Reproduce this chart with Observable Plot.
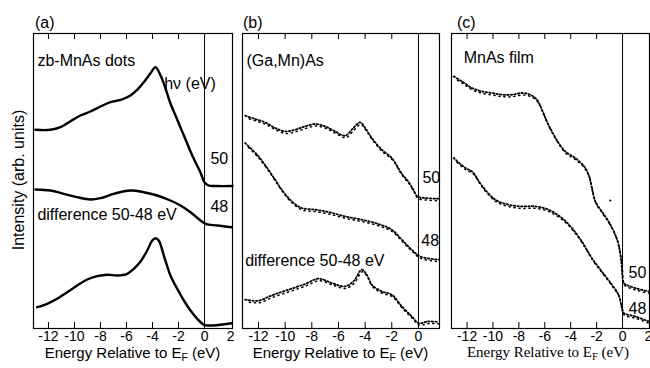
<!DOCTYPE html>
<html><head><meta charset="utf-8">
<script src="https://cdn.jsdelivr.net/npm/d3@7"></script>
<script src="https://cdn.jsdelivr.net/npm/@observablehq/plot@0.6"></script>
<style>
body{margin:0;background:#fff;}
#wrap{position:relative;width:650px;height:368px;overflow:hidden;font-family:"Liberation Sans",Arial,sans-serif;color:#000;background:#fff;}
.lbl{position:absolute;font-size:16px;line-height:1;white-space:nowrap;}
.xt{position:absolute;font-size:15px;line-height:1;white-space:nowrap;transform:translateX(-50%);top:345px;}
.xt sub{font-size:70%;vertical-align:-0.3em;line-height:0;}
.serif{font-family:"Liberation Serif","Times New Roman",serif;}
.yt{position:absolute;left:19px;top:180px;font-size:16px;line-height:1;white-space:nowrap;transform:translate(-50%,-50%) rotate(-90deg);}
</style></head><body><div id="wrap"></div>
<script>
// ---- data: [energy relative to EF (eV), intensity (arb. units)] ----
const a50 = [[-13.0,198.7],[-11.85,198.7],[-11.08,201.3],[-10.31,207.3],[-9.54,213],[-8.77,217],[-8.0,222],[-7.23,226.3],[-6.46,228.7],[-5.69,233],[-5.18,238.7],[-4.67,246.3],[-4.15,255.3],[-3.77,261.3],[-3.38,253],[-3.0,240],[-2.62,225],[-2.23,213],[-1.85,201],[-1.46,189],[-1.08,177],[-0.69,166],[-0.31,156],[0.0,146],[0.31,143],[0.85,142.5],[2.15,142.5]];
const a48 = [[-13.0,139],[-11.85,138],[-10.82,134.7],[-9.79,131.3],[-8.77,129],[-8.0,130.3],[-6.98,134.7],[-5.69,138],[-4.67,136.3],[-3.64,133],[-2.62,128],[-1.85,123],[-1.08,116.3],[-0.31,108],[0.08,104.7],[0.98,103],[2.1,101.3]];
const aDiff = [[-12.87,21.3],[-12.1,24.7],[-11.33,29.7],[-10.56,36.3],[-9.79,43],[-9.02,49],[-8.25,52.3],[-7.48,53.7],[-6.71,53],[-5.94,54.7],[-5.44,59.7],[-4.92,67],[-4.41,78],[-4.02,88],[-3.77,90.3],[-3.52,88],[-3.13,73],[-2.62,53],[-2.1,39.7],[-1.59,28],[-1.08,18],[-0.56,9.7],[-0.05,3.7],[0.46,3],[2.1,5.3]];

const b50 = [[-13.0,212],[-12.25,208.7],[-11.5,205.3],[-10.75,199.7],[-10.0,196.3],[-9.25,198],[-8.5,201.3],[-7.75,203.7],[-7.0,201.3],[-6.25,196.3],[-5.5,192],[-4.88,199.7],[-4.37,205.3],[-4.0,199.7],[-3.5,189.7],[-2.75,178],[-2.0,169.7],[-1.25,154],[-0.75,146],[-0.38,138],[-0.08,131.3],[0.5,129.7],[1.5,129]];
const b48 = [[-13.0,184.7],[-12.0,171.3],[-11.0,153],[-10.25,138],[-9.5,126.3],[-8.75,119.7],[-7.75,118],[-6.75,115.7],[-5.5,111.3],[-4.25,108],[-3.0,103.7],[-2.0,98],[-1.25,88],[-0.5,78],[0.13,71.3],[1.5,68]];
const bDiff = [[-13.0,28],[-12.0,27],[-11.0,32.3],[-9.75,38],[-8.5,43.7],[-7.5,49],[-6.5,44.7],[-5.5,41.3],[-4.88,46.3],[-4.25,58],[-3.88,53],[-3.5,43],[-2.75,36.3],[-2.0,33],[-1.25,21.3],[-0.5,11.3],[0.0,4.7],[0.75,6.3],[1.5,5.7]];

const c50 = [[-13.03,251.3],[-12.39,246.3],[-11.62,239.7],[-10.85,236.3],[-10.08,234.7],[-9.31,233],[-8.54,233],[-7.76,234.7],[-7.12,233],[-6.61,228],[-6.22,218],[-5.84,206.3],[-5.45,196.3],[-4.93,184.7],[-4.42,176.3],[-3.65,169.7],[-3.01,162],[-2.62,153],[-2.1,126.3],[-1.6,116.3],[-1.08,106.3],[-0.56,93],[-0.31,83],[-0.1,66.3],[0.0,49.7],[0.08,44.7],[0.98,39.7],[2.0,36.3]];
const c48 = [[-13.03,169.7],[-12.13,159.7],[-11.6,156],[-10.85,142],[-9.82,128],[-8.79,123],[-7.76,121.3],[-6.73,121.3],[-5.71,118],[-4.68,109.7],[-3.91,99.7],[-3.14,86.3],[-2.37,69.7],[-1.6,56.3],[-0.82,43],[-0.31,33],[-0.05,19.7],[0.08,14.7],[0.98,11.3],[2.0,6.3]];
const cStray = [[-0.95,128]];

// ---- tick values and labels ----
const tickLabelsA = [-12,-10,-8,-6,-4,-2,0,2];
const tickLabelsB = [-12,-10,-8,-6,-4,-2,0];
const tickLabelsC = [-12,-10,-8,-6,-4,-2,0,2];
const innerTicks = [-12,-10,-8,-6,-4,-2];

const textA = [
  {e:-12.85, i:263, t:"zb-MnAs dots"},
  {e:-3.1, i:240, t:"hν (eV)"},
  {e:0.45, i:165, t:"50"},
  {e:0.45, i:117, t:"48"},
  {e:-12.85, i:109, t:"difference 50-48 eV"}
];
const textB = [
  {e:-12.9, i:263, t:"(Ga,Mn)As"},
  {e:0.3, i:146, t:"50"},
  {e:0.22, i:83, t:"48"},
  {e:-13.0, i:63, t:"difference 50-48 eV"}
];
const textC = [
  {e:-12.26, i:266, t:"MnAs film"},
  {e:0.46, i:51, t:"50"},
  {e:0.46, i:15, t:"48"}
];

const FONT = "'Liberation Sans', Arial, Helvetica, sans-serif";
const toObj = arr => arr.map(([e, i]) => ({e, i}));

function seriesMarks(arr, dotted) {
  const d = toObj(arr);
  if (!dotted) {
    return [Plot.line(d, {x:"e", y:"i", curve:"catmull-rom", stroke:"black", strokeWidth:2.4})];
  }
  return [
    Plot.line(d, {x:"e", y:"i", curve:"catmull-rom", stroke:"black", strokeWidth:1.8, strokeDasharray:"1.5 2.1", dy:-0.8}),
    Plot.line(d, {x:"e", y:"i", curve:"catmull-rom", stroke:"black", strokeWidth:1.5, strokeDasharray:"1.2 3.8", strokeDashoffset:1.4, dy:1.2, dx:0.7})
  ];
}

function makePanel(o) {
  const H = 368, mt = 33, mb = 40, inner = H - mt - mb;
  const svg = Plot.plot({
    width: o.width, height: H,
    marginTop: mt, marginBottom: mb, marginLeft: o.ml, marginRight: o.mr,
    x: {domain: o.domain},
    y: {domain: [0, 295], axis: null},
    style: {fontFamily: FONT, background: "transparent", color: "black", overflow: "visible"},
    marks: [
      Plot.frame({stroke: "black", strokeWidth: 1.2}),
      Plot.ruleX([0], {stroke: "black", strokeWidth: 1}),
      Plot.ruleX(innerTicks, {stroke: "black", strokeWidth: 1, insetTop: inner - 6}),
      Plot.ruleX(innerTicks, {stroke: "black", strokeWidth: 1, insetBottom: inner - 6}),
      Plot.axisX(o.labels, {anchor: "bottom", tickSize: 0, tickPadding: 3, fontSize: 14, tickFormat: d => String(d), label: null}),
      ...o.series.flatMap(s => seriesMarks(s, o.dotted)),
      ...(o.stray ? [Plot.dot(toObj(o.stray), {x:"e", y:"i", r:1.1, fill:"black"})] : []),
      Plot.text(o.texts, {x: "e", y: "i", text: "t", textAnchor: "start", lineAnchor: "bottom", fontSize: 16, fill: "black"})
    ]
  });
  svg.style.position = "absolute";
  svg.style.left = o.left + "px";
  svg.style.top = "0px";
  return svg;
}

const wrap = document.getElementById("wrap");
wrap.appendChild(makePanel({left: 0, width: 240, ml: 33, mr: 8, domain: [-13.15, 2.15], labels: tickLabelsA, series: [a50, a48, aDiff], dotted: false, texts: textA}));
wrap.appendChild(makePanel({left: 240, width: 205, ml: 2, mr: 6, domain: [-13.2, 1.58], labels: tickLabelsB, series: [b50, b48, bDiff], dotted: true, texts: textB}));
wrap.appendChild(makePanel({left: 445, width: 205, ml: 6, mr: 1, domain: [-13.2, 2.08], labels: tickLabelsC, series: [c50, c48], dotted: true, texts: textC, stray: cStray}));

function addDiv(cls, html, left, top) {
  const d = document.createElement("div");
  d.className = cls; d.innerHTML = html;
  if (left != null) d.style.left = left + "px";
  if (top != null) d.style.top = top + "px";
  wrap.appendChild(d);
  return d;
}
addDiv("lbl", "(a)", 35, 14.5);
addDiv("lbl", "(b)", 243, 14.5);
addDiv("lbl", "(c)", 457, 14.5);
addDiv("yt", "Intensity (arb. units)");
addDiv("xt", "Energy Relative to E<sub>F</sub> (eV)", 132.5);
addDiv("xt", "Energy Relative to E<sub>F</sub> (eV)", 340.5);
addDiv("xt serif", "Energy Relative to E<sub>F</sub> (eV)", 548);
</script></body></html>
